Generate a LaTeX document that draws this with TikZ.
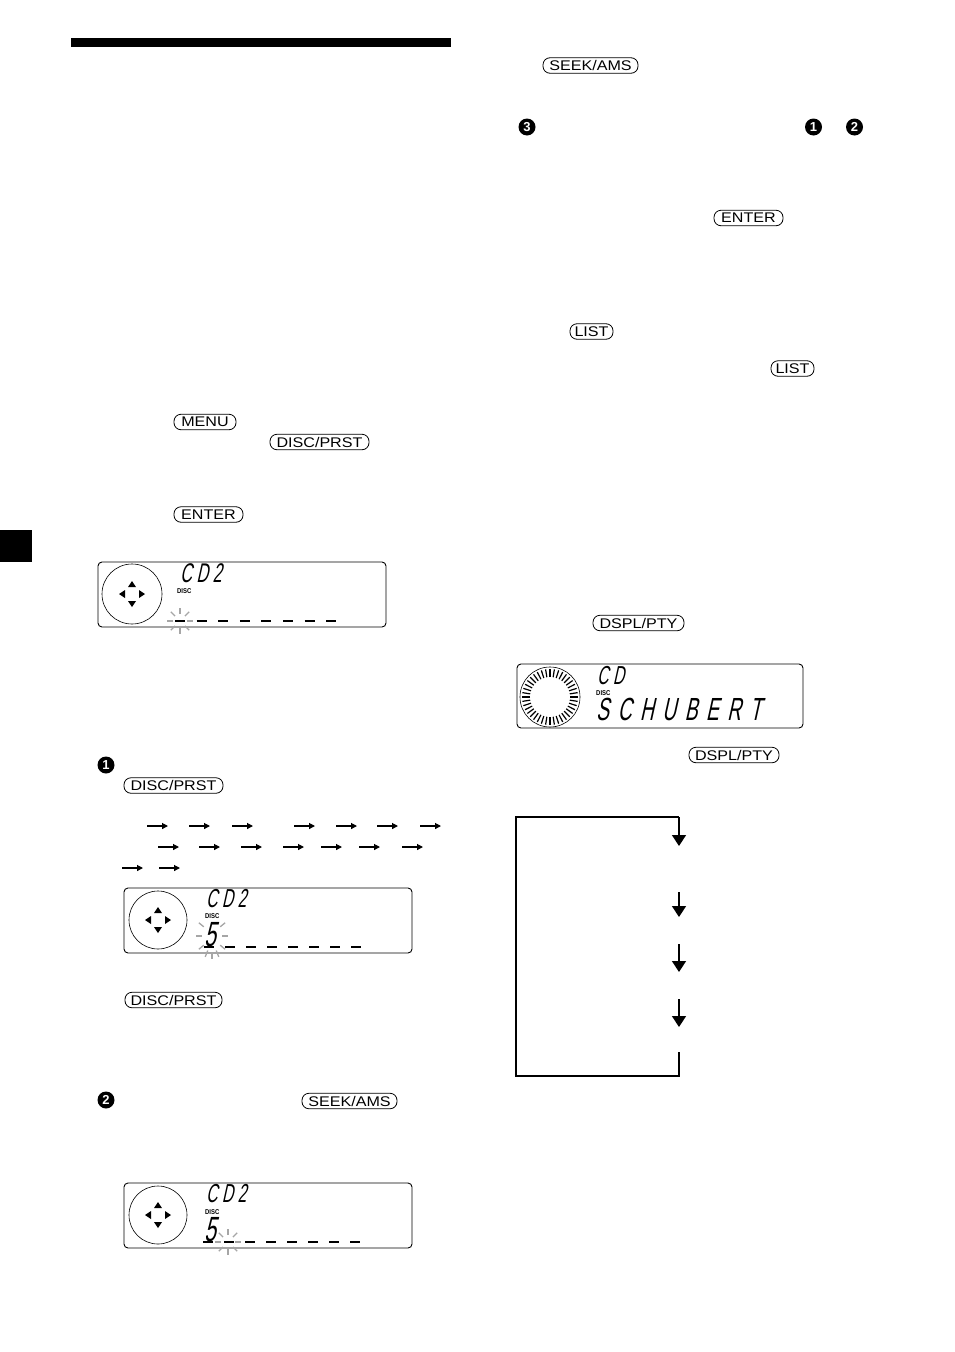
\documentclass[tikz,border=0pt]{standalone}
\usepackage{fontspec}
\setmainfont{Liberation Sans}
\newfontfamily\btnfont[FakeStretch=1.15]{Liberation Sans}
\newfontfamily\lcdfont[FakeSlant=0.22,FakeStretch=0.6]{Liberation Sans}
\newfontfamily\discfont[FakeStretch=0.85]{Liberation Sans}
\usetikzlibrary{arrows.meta}
\tikzset{
 btn/.style={draw, line width=0.8pt, rounded corners=7pt, minimum height=15.5pt, inner sep=0pt, font=\btnfont\fontsize{14}{14}\selectfont},
 num/.style={circle, fill=black, text=white, inner sep=0pt, minimum size=17pt, font=\bfseries\fontsize{13}{13}\selectfont},
 lcd/.style={draw, line width=0.9pt, rounded corners=4pt, inner sep=0pt},
 dial/.style={draw, circle, line width=0.6pt, inner sep=0pt},
 lcdtxt/.style={inner sep=0pt, anchor=base west},
 disclbl/.style={inner sep=0pt, anchor=base west, font=\discfont\bfseries\fontsize{7}{7}\selectfont},
 lcdbar/.style={line width=2.8pt},
 blink/.style={draw=gray!70, line width=1.3pt},
 smallarrow/.style={-{Triangle[length=6pt,width=6pt]}, line width=1.2pt},
 flowline/.style={line width=1.4pt},
 flowarrow/.style={line width=1.4pt, -{Triangle[length=11pt,width=14pt]}},
}
\newcommand\navpad[2]{%
 \fill (#1,#2-13) -- (#1-4,#2-7) -- (#1+4,#2-7) -- cycle;
 \fill (#1,#2+13) -- (#1-4,#2+7) -- (#1+4,#2+7) -- cycle;
 \fill (#1-13,#2) -- (#1-7,#2-4) -- (#1-7,#2+4) -- cycle;
 \fill (#1+13,#2) -- (#1+7,#2-4) -- (#1+7,#2+4) -- cycle;}
\newcommand\lsp{\kern 4.5pt}
\newcommand\wsp{\kern 8.5pt}
\begin{document}
\begin{tikzpicture}[x=1pt,y=-1pt]
\useasboundingbox (0,0) rectangle (954,1352);
% page marks
\fill (71,38) rectangle (451,47);
\fill (0,530) rectangle (32,562);

% buttons left column
\node[btn, minimum width=62pt] (menu) at (205,422) {MENU};
\node[btn, minimum width=99pt] (discA) at (319.5,442) {DISC/PRST};
\node[btn, minimum width=69pt] (enterA) at (208.5,514.5) {ENTER};
\node[btn, minimum width=99pt] (discB) at (173.5,785.5) {DISC/PRST};
\node[btn, minimum width=97pt] (discC) at (173.5,1000) {DISC/PRST};
\node[btn, minimum width=95pt] (seekA) at (349.5,1101) {SEEK/AMS};
% buttons right column
\node[btn, minimum width=95pt] (seekB) at (590.5,65.5) {SEEK/AMS};
\node[btn, minimum width=69pt] (enterB) at (748.5,218) {ENTER};
\node[btn, minimum width=43pt] (listA) at (591.5,331.5) {LIST};
\node[btn, minimum width=43pt] (listB) at (792.5,368.5) {LIST};
\node[btn, minimum width=91pt] (dsplA) at (638.5,623) {DSPL/PTY};
\node[btn, minimum width=90pt] (dsplB) at (734,755) {DSPL/PTY};

% step numbers
\node[num] (n3) at (527,127) {3};
\node[num] (n1r) at (813.5,127) {1};
\node[num] (n2r) at (854.5,127) {2};
\node[num] (n1) at (106,765) {1};
\node[num] (n2) at (106,1100) {2};

% display A
\node[lcd, minimum width=288pt, minimum height=65pt] (lcdA) at (242,594.5) {};
\node[dial, minimum size=60pt] (dialA) at (132,594) {};
\navpad{132}{594}
\node[lcdtxt, font=\lcdfont\fontsize{27}{27}\selectfont] (cdA) at (180,582.5) {C\lsp D\lsp 2};
\node[disclbl] (discLA) at (177,593) {DISC};
\foreach \i in {0,...,7} \draw[lcdbar] ({175+21.6*\i},621) -- ++(10,0);
\foreach \a in {0,45,...,315} \draw[blink, shift={(180,621)}] (\a:7) -- (\a:13);

% display B
\node[lcd, minimum width=288pt, minimum height=65pt] (lcdB) at (268,920.5) {};
\node[dial, minimum size=58pt] (dialB) at (158,920) {};
\navpad{158}{920}
\node[lcdtxt, font=\lcdfont\fontsize{26}{26}\selectfont] (cdB) at (206,907.5) {C\lsp D\lsp 2};
\node[disclbl] (discLB) at (205,918.5) {DISC};
\node[lcdtxt, font=\lcdfont\fontsize{35}{35}\selectfont] (fiveB) at (204,946) {5};
\foreach \i in {0,...,7} \draw[lcdbar] ({204+21*\i},947) -- ++(10,0);
\foreach \a in {0,35,65,90,115,145,180,215,325} \draw[blink, shift={(212,936)}] (\a:10 and 16) -- (\a:16 and 23);

% display C
\node[lcd, minimum width=288pt, minimum height=65pt] (lcdC) at (268,1215.5) {};
\node[dial, minimum size=58pt] (dialC) at (158,1215) {};
\navpad{158}{1215}
\node[lcdtxt, font=\lcdfont\fontsize{26}{26}\selectfont] (cdC) at (206,1202.5) {C\lsp D\lsp 2};
\node[disclbl] (discLC) at (205,1214) {DISC};
\node[lcdtxt, font=\lcdfont\fontsize{35}{35}\selectfont] (fiveC) at (204,1241) {5};
\foreach \i in {0,...,7} \draw[lcdbar] ({203+21*\i},1242) -- ++(10,0);
\foreach \a in {0,45,...,315} \draw[blink, shift={(228,1242)}] (\a:7) -- (\a:13);

% display D
\node[lcd, minimum width=286pt, minimum height=64pt] (lcdD) at (660,696) {};
\foreach \a in {0,9,...,351} \draw[line width=1.2pt, shift={(550,697)}] (\a:20) -- (\a:28);
\draw[line width=0.6pt] (550,697) circle (30);
\node[lcdtxt, font=\lcdfont\fontsize{26}{26}\selectfont] (cdD) at (597,684.5) {C\lsp D};
\node[disclbl] (discLD) at (596,695.5) {DISC};
\node[lcdtxt, font=\lcdfont\fontsize{32}{32}\selectfont] (title) at (596,720) {S\wsp C\wsp H\wsp U\wsp B\wsp E\wsp R\wsp T};

% step 1 arrow rows
\foreach \s in {147,189,232,294,336,377,420} \draw[smallarrow] (\s,826) -- ++(21,0);
\foreach \s in {158,199,241,283,321,359,402} \draw[smallarrow] (\s,847) -- ++(21,0);
\foreach \s in {122,159} \draw[smallarrow] (\s,868) -- ++(21,0);

% display-mode cycle
\coordinate (fTL) at (516,817);
\coordinate (fTR) at (679,817);
\coordinate (fBL) at (516,1076);
\coordinate (fBR) at (679,1076);
\coordinate (fBS) at (679,1052);
\coordinate (f1e) at (679,846);
\coordinate (f2s) at (679,892);
\coordinate (f2e) at (679,917);
\coordinate (f3s) at (679,944);
\coordinate (f3e) at (679,972);
\coordinate (f4s) at (679,999);
\coordinate (f4e) at (679,1027);
\draw[flowline] (fBS) -- (fBR) -- (fBL) -- (fTL) -- (fTR);
\draw[flowarrow] (fTR) -- (f1e);
\draw[flowarrow] (f2s) -- (f2e);
\draw[flowarrow] (f3s) -- (f3e);
\draw[flowarrow] (f4s) -- (f4e);
\end{tikzpicture}
\end{document}
